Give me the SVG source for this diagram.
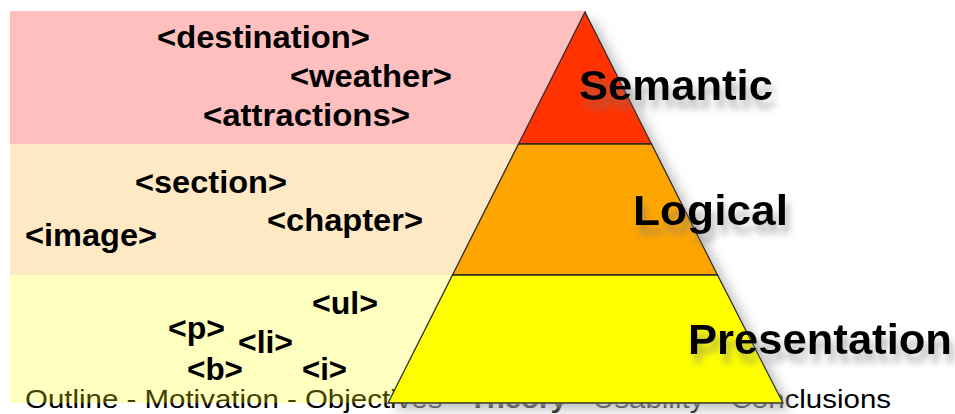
<svg xmlns="http://www.w3.org/2000/svg" width="955" height="414" viewBox="0 0 955 414">
<defs>
<style>
.tag{font-family:"Liberation Sans",Arial,sans-serif;font-weight:bold;font-size:31px;fill:#000}
.lbl{font-family:"Liberation Sans",Arial,sans-serif;font-weight:bold;font-size:43px;fill:#000}
.foot{font-family:"Liberation Sans",Arial,sans-serif;font-size:26px;fill:#000}
.layer{stroke:#2a2a2a;stroke-width:1.3;stroke-linejoin:miter}
</style>
<filter id="triShadow" x="-20%" y="-10%" width="140%" height="130%">
<feGaussianBlur in="SourceAlpha" stdDeviation="6" result="b"/>
<feOffset in="b" dx="7" dy="6" result="o"/>
<feFlood flood-color="#b0b0b0" flood-opacity="0.8"/>
<feComposite in2="o" operator="in" result="s"/>
<feMerge><feMergeNode in="s"/><feMergeNode in="SourceGraphic"/></feMerge>
</filter>
<filter id="txtShadow" x="-10%" y="-30%" width="120%" height="190%">
<feGaussianBlur in="SourceAlpha" stdDeviation="3.5" result="b"/>
<feOffset in="b" dx="4" dy="9" result="o"/>
<feFlood flood-color="#777" flood-opacity="0.5"/>
<feComposite in2="o" operator="in" result="s"/>
<feMerge><feMergeNode in="s"/><feMergeNode in="SourceGraphic"/></feMerge>
</filter>
</defs>
<rect width="955" height="414" fill="#fff"/>

<g id="footer">
<text class="foot" x="25" y="408" textLength="866" lengthAdjust="spacingAndGlyphs">Outline - Motivation - Objectives - <tspan font-weight="bold">Theory</tspan> - Usability - Conclusions</text>
</g>

<g id="bands">
<rect id="band-semantic" x="10" y="11" width="575" height="133" fill="#ff0000" fill-opacity="0.25"/>
<rect id="band-logical" x="10" y="144" width="575" height="131" fill="#ffa000" fill-opacity="0.23"/>
<rect id="band-presentation" x="10" y="275" width="575" height="128" fill="#ffff00" fill-opacity="0.25"/>
</g>

<g id="tags-semantic">
<text class="tag" x="157" y="48" textLength="213" lengthAdjust="spacingAndGlyphs">&lt;destination&gt;</text>
<text class="tag" x="290" y="87" textLength="162" lengthAdjust="spacingAndGlyphs">&lt;weather&gt;</text>
<text class="tag" x="203" y="126" textLength="207" lengthAdjust="spacingAndGlyphs">&lt;attractions&gt;</text>
</g>
<g id="tags-logical">
<text class="tag" x="135" y="193" textLength="152" lengthAdjust="spacingAndGlyphs">&lt;section&gt;</text>
<text class="tag" x="267" y="231" textLength="156" lengthAdjust="spacingAndGlyphs">&lt;chapter&gt;</text>
<text class="tag" x="25" y="246" textLength="132" lengthAdjust="spacingAndGlyphs">&lt;image&gt;</text>
</g>
<g id="tags-presentation">
<text class="tag" x="312" y="314" textLength="66" lengthAdjust="spacingAndGlyphs">&lt;ul&gt;</text>
<text class="tag" x="168" y="339" textLength="57" lengthAdjust="spacingAndGlyphs">&lt;p&gt;</text>
<text class="tag" x="238" y="353" textLength="55" lengthAdjust="spacingAndGlyphs">&lt;li&gt;</text>
<text class="tag" x="187" y="380" textLength="56" lengthAdjust="spacingAndGlyphs">&lt;b&gt;</text>
<text class="tag" x="302" y="380" textLength="45" lengthAdjust="spacingAndGlyphs">&lt;i&gt;</text>
</g>

<g id="pyramid" filter="url(#triShadow)">
<polygon id="layer-semantic" class="layer" points="585,12 518.5,144 651.5,144" fill="#ff3300"/>
<polygon id="layer-logical" class="layer" points="518.5,144 651.5,144 717.5,275 452.5,275" fill="#ffa500"/>
<polygon id="layer-presentation" class="layer" points="452.5,275 717.5,275 783,403 388,403" fill="#ffff00"/>
</g>

<g id="labels" filter="url(#txtShadow)">
<text class="lbl" x="579" y="100" textLength="194" lengthAdjust="spacingAndGlyphs">Semantic</text>
<text class="lbl" x="633" y="225" textLength="155" lengthAdjust="spacingAndGlyphs">Logical</text>
<text class="lbl" x="688" y="354" textLength="264" lengthAdjust="spacingAndGlyphs">Presentation</text>
</g>
</svg>
